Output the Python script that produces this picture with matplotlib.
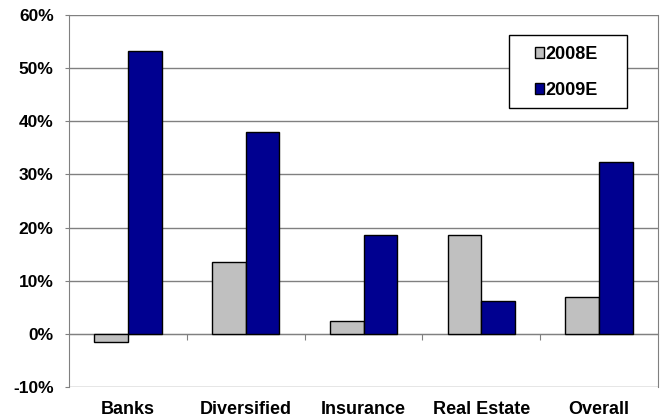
import matplotlib as mpl
mpl.use('Agg')

import numpy as np
import matplotlib.pyplot as plt
from matplotlib.patches import Rectangle

categories = ["Banks", "Diversified", "Insurance", "Real Estate", "Overall"]
growth_2008e = [-1.6, 13.6, 2.5, 18.6, 7.0]
growth_2009e = [53.3, 38.0, 18.6, 6.1, 32.3]
series_names = ["2008E", "2009E"]
yticks = [-10, 0, 10, 20, 30, 40, 50, 60]

plt.rcParams['font.family'] = ['Liberation Sans', 'DejaVu Sans']
plt.rcParams['font.weight'] = 'bold'

fig = plt.figure(figsize=(6.6, 4.18), dpi=100)
ax = fig.add_axes([69/660, 1-387/418, 589/660, 372/418])

x = np.arange(len(categories))
w = 1/3.5
ax.bar(x - w/2, growth_2008e, width=w, color='#C0C0C0', edgecolor='black',
       linewidth=1, label=series_names[0], zorder=3)
ax.bar(x + w/2, growth_2009e, width=w, color='#000090', edgecolor='black',
       linewidth=1, label=series_names[1], zorder=3)

ax.set_xlim(-0.5, len(categories)-0.5)
ax.set_ylim(-10, 60)
ax.set_yticks(yticks)
ax.set_yticklabels([f"{t}%" for t in yticks], fontsize=12.5, fontweight='bold')
ax.tick_params(axis='y', length=3, color='#808080', pad=8)
ax.yaxis.grid(True, color='#808080', linewidth=1, zorder=0)

# category axis sits on the zero line, labels below the plot
ax.spines['bottom'].set_position(('data', 0))
ax.spines['bottom'].set_color('#808080')
ax.set_xticks(np.arange(0.5, len(categories)-1, 1.0))
ax.set_xticklabels([])
ax.tick_params(axis='x', length=4, color='#808080', direction='out')
ax.spines['top'].set_visible(False)
for s in ['left', 'right']:
    ax.spines[s].set_color('#808080')

sec = ax.secondary_xaxis(0.0)
sec.set_xticks(x)
sec.set_xticklabels(categories, fontsize=13, fontweight='bold')
sec.tick_params(length=0, pad=10)
sec.spines['bottom'].set_visible(False)

# legend frame drawn separately so its padding matches the original
ax.add_patch(Rectangle((509/660, 1-108/418), 118/660, 73/418,
                       transform=fig.transFigure, facecolor='white',
                       edgecolor='black', linewidth=1, zorder=4, clip_on=False))
leg = ax.legend(loc='upper left', bbox_to_anchor=(535/660, 1-46/418),
                bbox_transform=fig.transFigure, fontsize=13, frameon=False,
                borderpad=0, labelspacing=1.05, handlelength=0.5,
                handleheight=0.5, handletextpad=0.1, borderaxespad=0)
leg.set_zorder(5)
for t in leg.get_texts():
    t.set_fontweight('bold')

fig.savefig("out.png", dpi=100)
